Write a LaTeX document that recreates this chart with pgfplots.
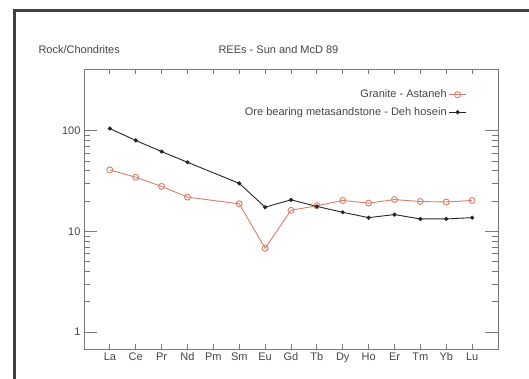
\documentclass[border=0pt]{standalone}
\usepackage{pgfplots}
\pgfplotsset{compat=1.18}
\usepackage{fontspec}
\setmainfont{Liberation Sans}
\definecolor{granite}{RGB}{214,128,108}
\definecolor{axgray}{RGB}{120,120,120}
\definecolor{txtgray}{RGB}{70,70,70}
\begin{document}
\begin{tikzpicture}
\useasboundingbox (0pt,0pt) rectangle (529pt,379pt);
\fill[white] (0pt,0pt) rectangle (529pt,379pt);
\draw[line width=3pt, black!75] (14pt,0pt) -- (14pt,368pt) -- (529pt,368pt);
\node[anchor=base west, text=txtgray, font=\fontsize{11}{13}\selectfont] at (35pt,325pt) {Rock/Chondrites};
\node[anchor=base west, text=txtgray, font=\fontsize{11}{13}\selectfont] at (215pt,325pt) {REEs - Sun and McD 89};
\begin{axis}[
  at={(84pt,30pt)}, anchor=south west,
  scale only axis, width=414pt, height=280pt,
  ymode=log, xmin=-1, xmax=15, ymin=0.68, ymax=410,
  tick align=inside, tick pos=both,
  axis line style={axgray, line width=0.8pt},
  tick style={axgray, line width=0.8pt},
  tick label style={text=txtgray, font=\fontsize{11}{13}\selectfont},
  /pgf/number format/assume math mode=true,
  xtick={0,1,2,3,4,5,6,7,8,9,10,11,12,13,14},
  xticklabels={La,Ce,Pr,Nd,Pm,Sm,Eu,Gd,Tb,Dy,Ho,Er,Tm,Yb,Lu},
  xtick style={draw=none},
  ytick={1,10,100}, yticklabels={1,10,100},
  major tick length=13pt, minor tick length=6pt,
  legend style={at={(0.932,0.94)}, anchor=north east, draw=none, fill=none,
    font=\fontsize{11}{13}\selectfont, text=txtgray, row sep=4pt},
  legend cell align=right,
  legend plot pos=right,
]
\pgfplotsinvokeforeach{0,1,2,3,4,5,6,7,8,9,10,11,12,13,14}{
  \draw[axgray, line width=0.8pt] (axis cs:#1,0.68) -- ++(0pt,5pt);
  \draw[axgray, line width=0.8pt] (axis cs:#1,410) -- ++(0pt,-5pt);
}
\addplot[granite, line width=0.9pt, mark=o, mark size=3pt, mark options={fill=granite!40}]
 coordinates {(0,40.8)(1,34.5)(2,28)(3,21.9)(5,18.8)(6,6.8)(7,16.2)(8,18.0)(9,20.3)(10,19.1)(11,20.7)(12,19.8)(13,19.6)(14,20.3)};
\addlegendentry{Granite - Astaneh}
\addplot[black!85, line width=0.9pt, mark=*, mark size=1.6pt]
 coordinates {(0,105)(1,80)(2,62)(3,48.6)(5,30)(6,17.4)(7,20.6)(8,17.7)(9,15.5)(10,13.7)(11,14.7)(12,13.3)(13,13.3)(14,13.7)};
\addlegendentry{Ore bearing metasandstone - Deh hosein}
\end{axis}
\end{tikzpicture}
\end{document}
